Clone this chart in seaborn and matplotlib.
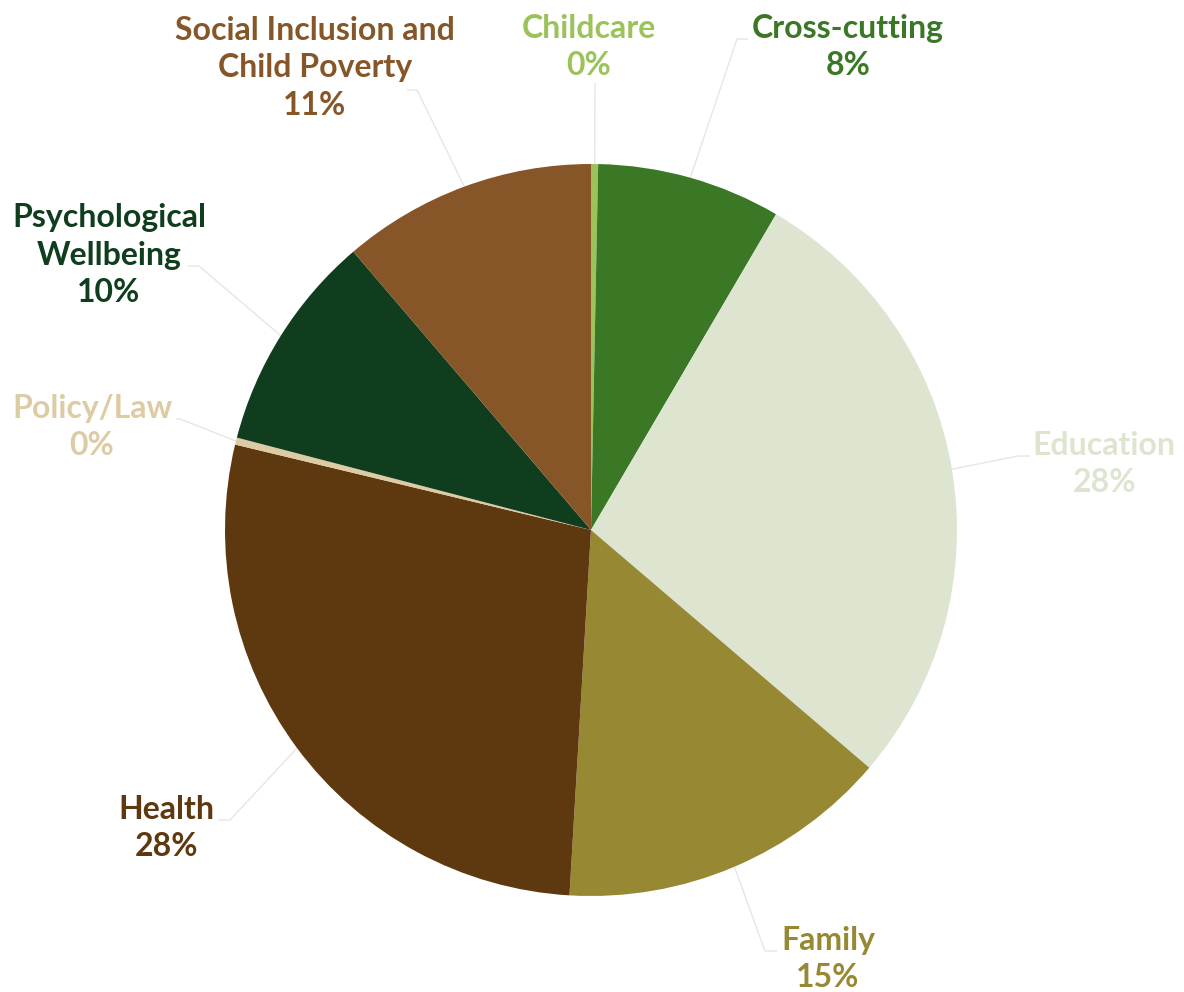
import numpy as np
import matplotlib
matplotlib.use("Agg")
import matplotlib.pyplot as plt
import seaborn as sns

# Share of items by theme
categories = ["Childcare", "Cross-cutting", "Education", "Family", "Health",
              "Policy/Law", "Psychological\nWellbeing",
              "Social Inclusion and\nChild Poverty"]
counts = [1, 26, 89, 47, 89, 1, 31, 36]
slice_colors = ["#9CC35A", "#3A7826", "#DDE5D0", "#978834", "#5E380F",
                "#DDCBA4", "#103D1E", "#865628"]

W, H = 1184, 992
sns.set_theme(style="white")
plt.rcParams["font.family"] = ["Lato", "DejaVu Sans"]

fig = plt.figure(figsize=(W / 100, H / 100), dpi=100)
ax = fig.add_axes([0, 0, 1, 1])

cx, cy, R = 591, H - 530, 366
palette = sns.color_palette(slice_colors)
wedges, _ = ax.pie(counts, colors=palette, startangle=90, counterclock=False,
                   center=(cx, cy), radius=R, wedgeprops=dict(linewidth=0))
ax.set_xlim(0, W)
ax.set_ylim(0, H)
ax.set_aspect("equal")
ax.axis("off")

# Leader-line elbows, end of the short horizontal tick, and label centre
# (pixel positions measured from the top-left corner)
layout = [
    dict(elbow=(595, 83), tick=None, text=(589, 47)),
    dict(elbow=(737, 39), tick=748, text=(848, 47)),
    dict(elbow=(1018, 456), tick=1030, text=(1104, 464)),
    dict(elbow=(765, 951), tick=777, text=(828, 959)),
    dict(elbow=(230, 820), tick=218, text=(166, 828)),
    dict(elbow=(180, 419), tick=176, text=(92, 427)),
    dict(elbow=(199, 266), tick=188, text=(109, 255)),
    dict(elbow=(417, 90), tick=407, text=(315, 68)),
]

total = sum(counts)
line_col = "#E6E6E6"
for w, name, n, col, lay in zip(wedges, categories, counts, palette, layout):
    mid = np.deg2rad((w.theta1 + w.theta2) / 2)
    x0 = cx + R * np.cos(mid)
    y0 = cy + R * np.sin(mid)
    ex, ey = lay["elbow"]
    ey = H - ey
    xs, ys = [x0, ex], [y0, ey]
    if lay["tick"] is not None:
        xs.append(lay["tick"])
        ys.append(ey)
    ax.plot(xs, ys, color=line_col, lw=1.0, zorder=0, solid_capstyle="butt")
    tx, ty = lay["text"]
    pct = f"{round(100 * n / total)}%"
    ax.text(tx, H - ty, f"{name}\n{pct}", ha="center", va="center",
            multialignment="center", fontsize=23, fontweight="bold",
            color=col, linespacing=1.34)

fig.savefig("out.png", dpi=100, facecolor="white")
